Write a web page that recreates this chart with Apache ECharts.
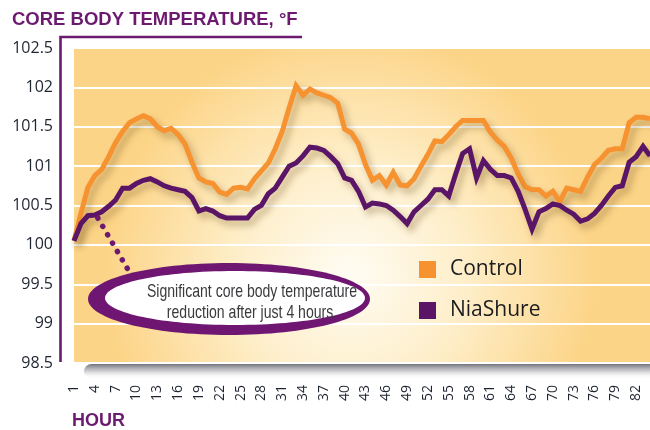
<!DOCTYPE html>
<html>
<head>
<meta charset="utf-8">
<script src="https://cdn.jsdelivr.net/npm/echarts@6/dist/echarts.min.js"></script>
<style>html,body{margin:0;padding:0;background:#fff}#c{width:650px;height:430px}</style>
</head>
<body>
<div id="c"></div>
<script>
const hours = ['1','2','3','4','5','6','7','8','9','10','11','12','13','14','15','16','17','18','19','20',
'21','22','23','24','25','26','27','28','29','30','31','32','33','34','35','36','37','38','39','40',
'41','42','43','44','45','46','47','48','49','50','51','52','53','54','55','56','57','58','59','60',
'61','62','63','64','65','66','67','68','69','70','71','72','73','74','75','76','77','78','79','80',
'81','82','83','84'];
const control = [100.05,100.4,100.73,100.88,100.96,101.12,101.3,101.44,101.55,101.6,101.64,101.6,101.5,101.45,101.48,101.4,101.28,101.05,100.85,100.8,
100.78,100.67,100.64,100.72,100.73,100.71,100.84,100.94,101.04,101.22,101.44,101.74,102.02,101.9,101.98,101.93,101.9,101.87,101.8,101.47,
101.42,101.28,101.02,100.82,100.88,100.76,100.92,100.76,100.75,100.84,101.0,101.15,101.32,101.31,101.4,101.5,101.58,101.58,101.58,101.58,
101.43,101.33,101.25,101.1,100.9,100.74,100.7,100.7,100.62,100.68,100.55,100.72,100.7,100.68,100.86,101.02,101.1,101.2,101.22,101.22,
101.55,101.62,101.62,101.6];
const niaShure = [100.05,100.27,100.37,100.38,100.42,100.49,100.57,100.72,100.72,100.78,100.82,100.84,100.8,100.75,100.72,100.7,100.68,100.6,100.43,100.46,
100.43,100.37,100.34,100.34,100.34,100.34,100.45,100.5,100.65,100.72,100.86,101.0,101.04,101.13,101.24,101.23,101.2,101.12,101.03,100.85,
100.82,100.68,100.48,100.53,100.52,100.5,100.44,100.36,100.27,100.42,100.5,100.58,100.7,100.7,100.62,100.9,101.16,101.22,100.85,101.07,
100.96,100.88,100.88,100.85,100.68,100.45,100.2,100.42,100.46,100.52,100.5,100.44,100.39,100.3,100.33,100.4,100.5,100.62,100.73,100.75,
101.05,101.12,101.25,101.13];
const seriesNames = ['Control', 'NiaShure'];
const yMin = 98.5, yMax = 102.5, yStep = 0.5;

const ORANGE = '#f6922f', PURPLE = '#5b1566', FRAME = '#6c1a70';
const chart = echarts.init(document.getElementById('c'), null, {renderer: 'canvas'});
const lineShadow = {shadowColor: 'rgba(110,80,30,0.4)', shadowBlur: 7, shadowOffsetX: 4, shadowOffsetY: 5};

chart.setOption({
  animation: false,
  backgroundColor: '#ffffff',
  grid: {
    left: 74, top: 48, width: 577, height: 315, show: true, borderWidth: 0,
    backgroundColor: {type: 'radial', x: 0.48, y: 0.72, r: 0.78,
      colorStops: [{offset: 0, color: '#fffcf3'}, {offset: 0.45, color: '#feefcb'}, {offset: 1, color: '#fcd487'}]}
  },
  legend: {
    data: seriesNames, orient: 'vertical', left: 414, top: 254, itemWidth: 17, itemHeight: 17, itemGap: 20,
    icon: 'rect', selectedMode: false,
    textStyle: {fontSize: 21, lineHeight: 21, fontFamily: 'Open Sans', color: '#1b1b1f', padding: [0, 0, 0, 9]}
  },
  xAxis: {
    type: 'category', data: hours, boundaryGap: false,
    axisLine: {show: false}, axisTick: {show: false},
    axisLabel: {interval: 2, rotate: 90, margin: 22, fontSize: 14, fontFamily: 'Open Sans', color: '#1e2430'},
    splitLine: {show: false}
  },
  yAxis: {
    type: 'value', min: yMin, max: yMax, interval: yStep,
    axisLine: {show: false}, axisTick: {show: false},
    axisLabel: {margin: 21, fontSize: 16, fontFamily: 'Open Sans', color: '#1e2430'},
    splitLine: {show: true, lineStyle: {color: '#ffffff', width: 2}}
  },
  series: [
    {name: seriesNames[0], type: 'line', data: control, symbol: 'none', showSymbol: false,
     itemStyle: {color: ORANGE}, lineStyle: Object.assign({color: ORANGE, width: 5, join: 'miter'}, lineShadow), z: 3},
    {name: seriesNames[1], type: 'line', data: niaShure, symbol: 'none', showSymbol: false,
     itemStyle: {color: PURPLE}, lineStyle: Object.assign({color: PURPLE, width: 5, join: 'miter'}, lineShadow), z: 4}
  ]
});

const start = chart.convertToPixel({xAxisIndex: 0, yAxisIndex: 0}, [hours[3], niaShure[3]]);

chart.setOption({
  graphic: [
    {type: 'text', left: 12, top: 10, style: {text: 'CORE BODY TEMPERATURE, °F', fill: FRAME,
      font: 'bold 18.5px "Liberation Sans", Arial, sans-serif'}},
    {type: 'polyline', shape: {points: [[302, 37], [60.5, 37], [60.5, 362]]},
      style: {stroke: FRAME, lineWidth: 2.6, fill: null}},
    {type: 'text', left: 72, top: 412, style: {text: 'HOUR', fill: FRAME,
      font: 'bold 18px "Liberation Sans", Arial, sans-serif'}},
    {type: 'rect', shape: {x: 84, y: 364, width: 568, height: 15, r: [8, 0, 0, 8]}, z: 0,
      style: {fill: {type: 'linear', x: 0, y: 0, x2: 0, y2: 1,
        colorStops: [{offset: 0, color: 'rgba(100,100,110,0.9)'}, {offset: 0.45, color: 'rgba(150,150,158,0.5)'}, {offset: 1, color: 'rgba(255,255,255,0)'}]}}},
    {type: 'line', shape: {x1: start[0] + 3, y1: start[1] + 3, x2: 130, y2: 273}, z: 10,
      style: {stroke: FRAME, lineWidth: 5.5, lineCap: 'round', lineDash: [0.1, 9.6]}},
    {type: 'ellipse', shape: {cx: 229, cy: 299, rx: 141, ry: 36}, z: 10, style: {fill: '#6e1672'}},
    {type: 'ellipse', shape: {cx: 235, cy: 298, rx: 130, ry: 27}, z: 11, style: {fill: '#ffffff'}},
    {type: 'text', x: 252, y: 302, scaleX: 0.76, z: 12, style: {text: 'Significant core body temperature\nreduction after just 4 hours.',
      fill: '#3a3a3d', font: '18.5px "Liberation Sans", Arial, sans-serif',
      textAlign: 'center', textVerticalAlign: 'middle', lineHeight: 21}}
  ]
});
</script>
</body>
</html>
